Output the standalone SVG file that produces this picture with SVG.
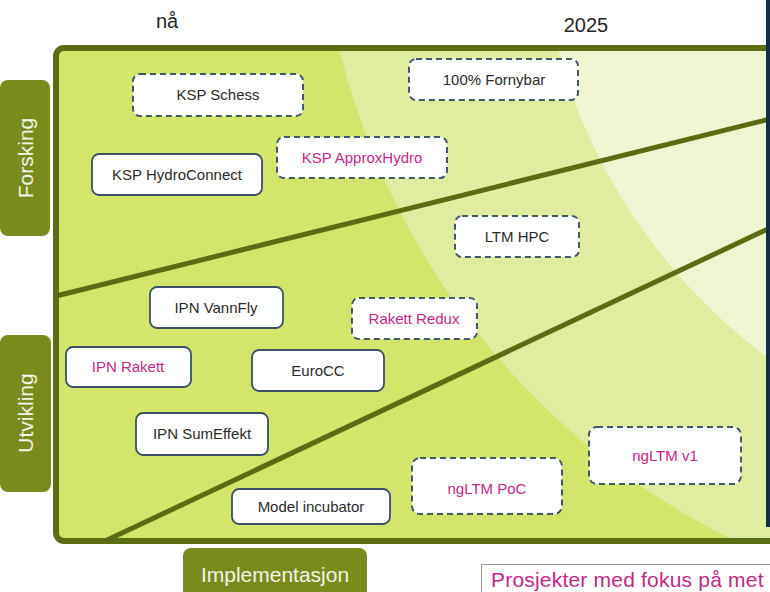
<svg xmlns="http://www.w3.org/2000/svg" width="770" height="592" viewBox="0 0 770 592">
<style>
text{font-family:"Liberation Sans",Arial,sans-serif}
.lab{fill:#7a8b1d}
.labt{fill:#f2f4e6;font-size:21px;text-anchor:middle}
.hdr{fill:#262626;font-size:20px;text-anchor:middle}
.n{fill:#ffffff}
.solid{stroke:#3b5163;stroke-width:1.8}
.dash{stroke:#40596b;stroke-width:2;stroke-dasharray:6 4}
.t{font-size:15px;text-anchor:middle;fill:#2b2b2b}
.m{fill:#c4278a}
.div{stroke:#5a6b12;stroke-width:5;fill:none}
</style>
<defs>
<clipPath id="inner"><rect x="56" y="48" width="760" height="493" rx="8"/></clipPath>
</defs>
<rect width="770" height="592" fill="#ffffff"/>

<text class="hdr" x="167" y="28">nå</text>
<text class="hdr" x="586" y="32" font-size="21">2025</text>

<g id="label-forsking">
<rect class="lab" x="0" y="80" width="50" height="156" rx="8"/>
<text class="labt" transform="translate(33,158) rotate(-90)">Forsking</text>
</g>
<g id="label-utvikling">
<rect class="lab" x="0" y="335" width="51" height="157" rx="8"/>
<text class="labt" transform="translate(33,413) rotate(-90)">Utvikling</text>
</g>
<g id="label-implementasjon">
<rect class="lab" x="183" y="548" width="184" height="60" rx="8"/>
<text class="labt" x="275" y="582" font-size="22">Implementasjon</text>
</g>

<g id="board">
<rect x="56" y="48" width="760" height="493" rx="8" fill="#d4e56c"/>
<g clip-path="url(#inner)">
<circle cx="1063" cy="-128" r="745" fill="#e0eca0"/>
<circle cx="1107" cy="-99" r="569" fill="#eef5d0"/>
</g>
<rect x="56" y="48" width="760" height="493" rx="8" fill="none" stroke="#5c6e14" stroke-width="6"/>
</g>

<g id="dividers">
<line class="div" x1="56" y1="296" x2="770" y2="119"/>
<line class="div" x1="105" y1="541" x2="770" y2="228"/>
</g>

<rect x="766" y="-2" width="6" height="529" fill="#142d45"/>

<g id="ksp-schess"><rect class="n dash" x="133" y="74" width="170" height="42" rx="7"/><text class="t" x="218" y="100">KSP Schess</text></g>
<g id="ksp-hydroconnect"><rect class="n solid" x="92" y="154" width="170" height="41" rx="7"/><text class="t" x="177" y="180">KSP HydroConnect</text></g>
<g id="ksp-approxhydro"><rect class="n dash" x="277" y="137" width="170" height="41" rx="7"/><text class="t m" x="362" y="163">KSP ApproxHydro</text></g>
<g id="fornybar"><rect class="n dash" x="409" y="59" width="169" height="41" rx="7"/><text class="t" x="494" y="85">100% Fornybar</text></g>
<g id="ltm-hpc"><rect class="n dash" x="455" y="216" width="124" height="41" rx="7"/><text class="t" x="517" y="242">LTM HPC</text></g>
<g id="ipn-vannfly"><rect class="n solid" x="150" y="287" width="133" height="41" rx="7"/><text class="t" x="216" y="313">IPN VannFly</text></g>
<g id="rakett-redux"><rect class="n dash" x="352" y="298" width="125" height="41" rx="7"/><text class="t m" x="414" y="324">Rakett Redux</text></g>
<g id="ipn-rakett"><rect class="n solid" x="66" y="347" width="125" height="40" rx="7"/><text class="t m" x="128" y="372">IPN Rakett</text></g>
<g id="eurocc"><rect class="n solid" x="252" y="350" width="132" height="41" rx="7"/><text class="t" x="318" y="376">EuroCC</text></g>
<g id="ipn-sumeffekt"><rect class="n solid" x="136" y="413" width="132" height="42" rx="7"/><text class="t" x="202" y="439">IPN SumEffekt</text></g>
<g id="model-incubator"><rect class="n solid" x="232" y="489" width="158" height="35" rx="7"/><text class="t" x="311" y="512">Model incubator</text></g>
<g id="ngltm-poc"><rect class="n dash" x="412" y="458" width="150" height="56" rx="8"/><text class="t m" x="487" y="494">ngLTM PoC</text></g>
<g id="ngltm-v1"><rect class="n dash" x="589" y="427" width="152" height="57" rx="8"/><text class="t m" x="665" y="461">ngLTM v1</text></g>

<g id="note">
<rect x="481.5" y="564.5" width="320" height="40" fill="#ffffff" stroke="#9a9a9a" stroke-width="1"/>
<text x="491" y="587" font-size="21" fill="#c4278a" letter-spacing="0.2">Prosjekter med fokus på met</text>
</g>
</svg>
